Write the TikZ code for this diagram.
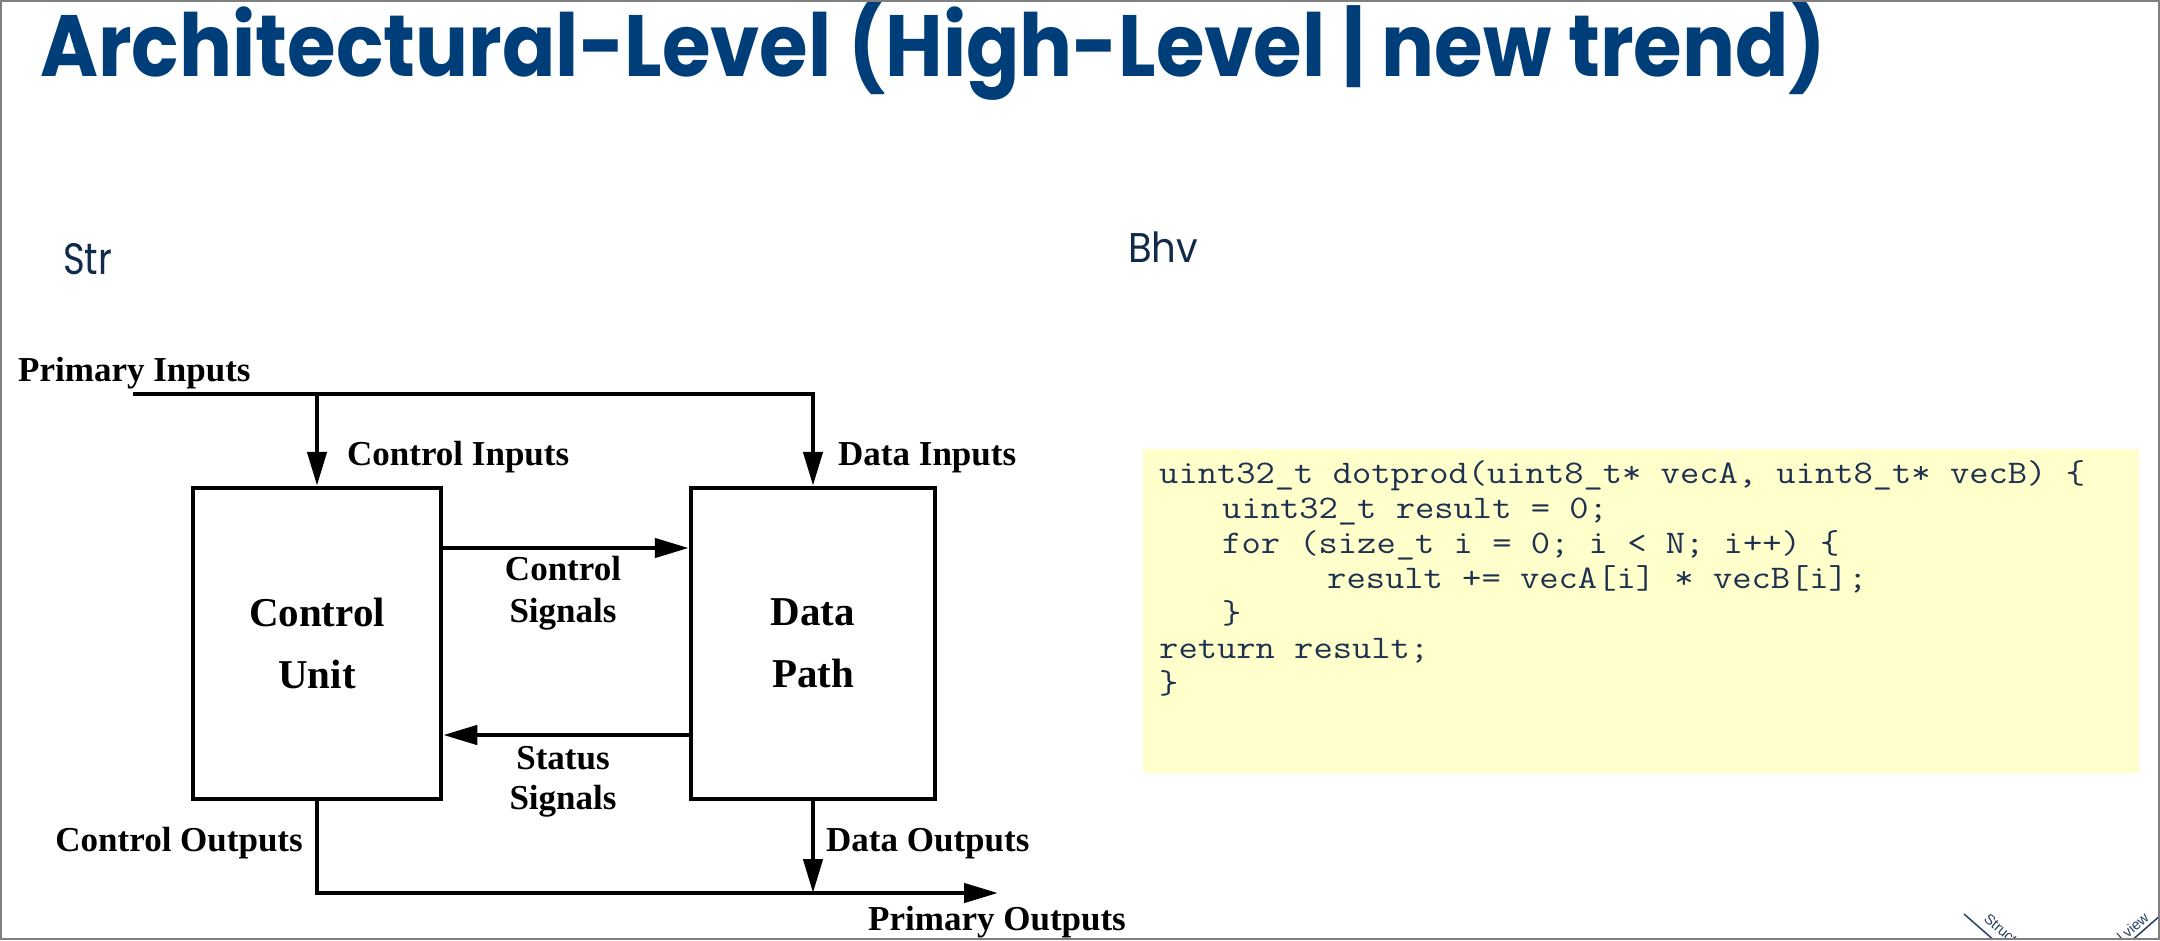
\documentclass[tikz,border=0pt]{standalone}
\usepackage{fontspec}
\usepackage{graphicx}
\usetikzlibrary{arrows.meta}

\newfontfamily\headfont{Poppins}
\newfontfamily\figfont{Liberation Serif}
\newfontfamily\chartfont{Liberation Sans}

\definecolor{titleblue}{RGB}{0,62,122}
\definecolor{navy}{RGB}{15,42,75}
\definecolor{codeink}{RGB}{30,50,80}
\definecolor{codebg}{RGB}{255,255,204}
\definecolor{framegrey}{RGB}{128,128,128}
\definecolor{chartblue}{RGB}{40,62,100}

% set a text at a given width, keeping its height
\newsavebox\fitbox
\newcommand\fitto[2]{\sbox\fitbox{#2}\pgfmathsetmacro\fitfactor{#1/\the\wd\fitbox}\scalebox{\fitfactor}[1]{\usebox\fitbox}}
% widen the typewriter face to the code's character pitch
\newcommand\codetext[1]{\scalebox{1.135}[1]{#1}}

\tikzset{
  blockbox/.style={draw, line width=4.5pt, fill=white, inner sep=0pt, align=center,
    font=\figfont\bfseries\fontsize{41}{62}\selectfont},
  sig/.style={line width=4.5pt, -{Triangle[length=34pt,width=19pt]}},
  figlabel/.style={inner sep=0pt, font=\figfont\bfseries\fontsize{35}{42}\selectfont},
  codeline/.style={anchor=base west, inner sep=0pt, text=codeink,
    font=\ttfamily\fontsize{33}{35}\selectfont},
  chartline/.style={draw=chartblue, line width=1.5pt},
  chartlabel/.style={inner sep=0pt, text=chartblue, font=\chartfont\fontsize{14.5}{14.5}\selectfont},
}

\begin{document}
\begin{tikzpicture}[x=1pt,y=-1pt]
\useasboundingbox (0,0) rectangle (2160,940);

% heading and side captions
\node[anchor=base west, inner sep=0pt, text=titleblue] (title) at (40,76)
  {\fitto{1786}{\headfont\bfseries\fontsize{87}{87}\selectfont Architectural-Level (High-Level | new trend)}};
\node[anchor=base west, inner sep=0pt, text=navy] (str) at (63,274)
  {\fitto{49}{\headfont\fontsize{44}{44}\selectfont Str}};
\node[anchor=base west, inner sep=0pt, text=navy] (bhv) at (1128,262)
  {\fitto{70}{\headfont\fontsize{41.5}{41.5}\selectfont Bhv}};

% control unit / data path block diagram
\node[blockbox, minimum width=248pt, minimum height=311pt] (cu) at (317,643.5) {Control\\Unit};
\node[blockbox, minimum width=244pt, minimum height=311pt] (dp) at (813,643.5) {Data\\Path};

\coordinate (pin) at (133,394);
\coordinate (csig) at (0,548);
\coordinate (ssig) at (0,735);
\coordinate (pout) at (998,893);

\draw[sig] (pin) -| (dp.north);
\draw[sig] (cu.north |- pin) -- (cu.north);
\draw[sig] (cu.east |- csig) -- (dp.west |- csig);
\draw[sig] (dp.west |- ssig) -- (cu.east |- ssig);
\draw[sig] (cu.south) |- (pout);
\draw[sig] (dp.south) -- (dp.south |- pout);

\node[figlabel, anchor=base west] (lpin) at (18,381) {Primary Inputs};
\node[figlabel, anchor=base west] (lcin) at (347,465) {Control Inputs};
\node[figlabel, anchor=base west] (ldin) at (838,465) {Data Inputs};
\node[figlabel, anchor=base] (lcs1) at (563,580) {Control};
\node[figlabel, anchor=base] (lcs2) at (563,622) {Signals};
\node[figlabel, anchor=base] (lss1) at (563,769) {Status};
\node[figlabel, anchor=base] (lss2) at (563,809) {Signals};
\node[figlabel, anchor=base east] (lcout) at (303,851) {Control Outputs};
\node[figlabel, anchor=base west] (ldout) at (826,851) {Data Outputs};
\node[figlabel, anchor=base west] (lpout) at (868,930) {Primary Outputs};

% behavioural description
\node[fill=codebg, minimum width=996pt, minimum height=324pt, inner sep=0pt, anchor=north west]
  (codebox) at (1143,449) {};
\node[codeline] (code1) at (1159,483) {\codetext{uint32\_t dotprod(uint8\_t* vecA, uint8\_t* vecB) \{}};
\node[codeline] (code2) at (1222,518) {\codetext{uint32\_t result = 0;}};
\node[codeline] (code3) at (1222,553) {\codetext{for (size\_t i = 0; i < N; i++) \{}};
\node[codeline] (code4) at (1327,588) {\codetext{result += vecA[i] * vecB[i];}};
\node[codeline] (code5) at (1222,623) {\codetext{\}}};
\node[codeline] (code6) at (1159,658) {\codetext{return result;}};
\node[codeline] (code7) at (1159,693) {\codetext{\}}};

% corner of the Y-chart, cut by the frame
\begin{scope}
  \clip (1,1) rectangle (2159,939);
  \draw[chartline] (1964,914) -- (2012,956);
  \node[chartlabel, rotate=-41, anchor=base west] (ystruct) at (1983,920) {Structural view};
  \draw[chartline] (2114,956) -- (2162,914);
  \node[chartlabel, rotate=41, anchor=base east] (ybeh) at (2150,919) {Behavioral view};
\end{scope}

\draw[framegrey, line width=2pt] (1,1) rectangle (2159,939);
\end{tikzpicture}
\end{document}
